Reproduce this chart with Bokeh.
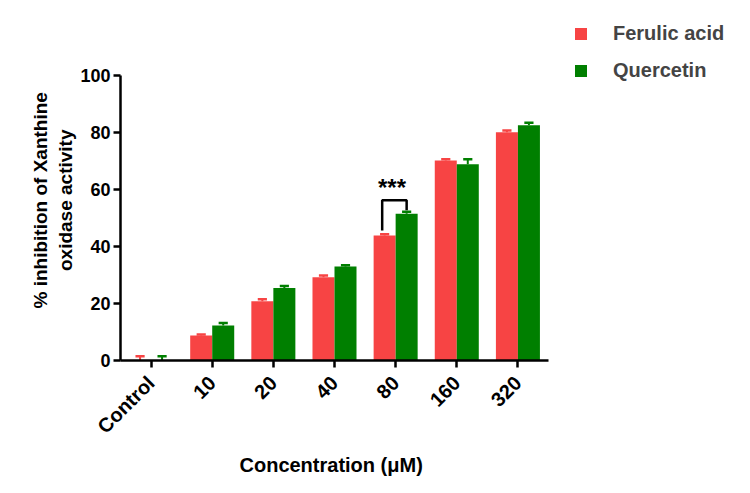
import numpy as np
from bokeh.plotting import figure
from bokeh.models import Range1d, FixedTicker, Legend, LegendItem, ColumnDataSource, Title
from bokeh.core.properties import value
from bokeh.embed import file_html
from bokeh.resources import INLINE

categories = ["Control", "10", "20", "40", "80", "160", "320"]
ferulic_mean = [0.2, 8.8, 20.8, 29.2, 43.9, 70.2, 80.1]
ferulic_err = [1.3, 0.3, 0.7, 0.6, 0.4, 0.4, 0.6]
quercetin_mean = [0.2, 12.3, 25.4, 33.0, 51.5, 68.9, 82.5]
quercetin_err = [1.3, 0.9, 0.7, 0.4, 0.7, 1.7, 0.9]
y_ticks = [0, 20, 40, 60, 80, 100]
y_label_lines = ["% inhibition of Xanthine", "oxidase activity"]
x_label = "Concentration (μM)"
sig_group = 4
sig_label = "***"

RED = "#F74444"
GREEN = "#007F00"
FONT = "Liberation Sans"

x = np.arange(len(categories))
off = 0.18
bw = 0.36
cap = 0.075

p = figure(width=750, height=493, output_backend="svg", toolbar_location=None,
           x_range=Range1d(-0.5, 9.804), y_range=Range1d(0, 121.05),
           min_border_left=120, min_border_right=0, min_border_top=15, min_border_bottom=133)
p.outline_line_color = None
p.xgrid.visible = False
p.ygrid.visible = False
p.background_fill_color = "white"
p.border_fill_color = "white"

def series(xs, mean, err, color):
    src = ColumnDataSource(dict(x=xs, top=mean, upper=np.array(mean) + np.array(err)))
    r = p.vbar(x="x", top="top", width=bw, bottom=0, source=src, fill_color=color, line_color=None)
    p.segment(x0="x", y0="top", x1="x", y1="upper", source=src, line_color=color, line_width=2)
    xs_arr = np.array(xs)
    p.segment(x0=xs_arr - cap, y0=src.data["upper"], x1=xs_arr + cap, y1=src.data["upper"],
              line_color=color, line_width=2.5)
    return r

r1 = series(x - off, ferulic_mean, ferulic_err, RED)
r2 = series(x + off, quercetin_mean, quercetin_err, GREEN)

# significance bracket
i = sig_group
lx = i - off - 0.04
rx = i + off
y_left = ferulic_mean[i] + ferulic_err[i] + 1.3
y_right = quercetin_mean[i] + quercetin_err[i] + 0.5
y_top = quercetin_mean[i] + quercetin_err[i] + 4
p.line(x=[lx, lx, rx, rx], y=[y_left, y_top, y_top, y_right], line_color="black", line_width=2.5)
p.text(x=[i - 0.06], y=[y_top + 4.6], text=[sig_label], text_font=value(FONT),
       text_font_style="bold", text_font_size="24px", text_align="center",
       text_baseline="alphabetic", text_color="black")

# axes
for ax in (p.xaxis[0], p.yaxis[0]):
    ax.axis_line_width = 2.5
    ax.axis_line_color = "black"
    ax.major_tick_line_width = 2.5
    ax.major_tick_line_color = "black"
    ax.major_tick_in = 0
    ax.major_tick_out = 7
    ax.minor_tick_line_color = None
    ax.major_label_text_font = FONT
    ax.major_label_text_font_style = "bold"
    ax.major_label_text_color = "black"

p.xaxis.bounds = (-0.5, 6.5)
p.xaxis.ticker = FixedTicker(ticks=list(x))
p.xaxis.major_label_overrides = {int(k): c for k, c in zip(x, categories)}
p.xaxis.major_label_orientation = np.pi / 4
p.xaxis.major_label_standoff = 12
p.xaxis.major_label_text_font_size = "20px"

p.yaxis.bounds = (0, 100)
p.yaxis.ticker = FixedTicker(ticks=y_ticks)
p.yaxis.major_label_standoff = 3
p.yaxis.major_label_text_font_size = "18px"

# y-axis label as two centred lines (inner line first)
yt2 = Title(text=y_label_lines[1], align="left", offset=89.5, text_font=FONT,
            text_font_style="bold", text_font_size="19px", text_color="black", standoff=4)
p.add_layout(yt2, "left")
yt1 = Title(text=y_label_lines[0], align="left", offset=52, text_font=FONT,
            text_font_style="bold", text_font_size="19px", text_color="black", standoff=0)
p.add_layout(yt1, "left")

xt = Title(text=x_label, align="left", offset=119, text_font=FONT,
           text_font_style="bold", text_font_size="20px", text_color="black", standoff=6)
p.add_layout(xt, "below")

legend = Legend(items=[LegendItem(label="Ferulic acid", renderers=[r1]),
                       LegendItem(label="Quercetin", renderers=[r2])],
                location=(453, 278))
legend.border_line_color = None
legend.background_fill_alpha = 0
legend.padding = 0
legend.margin = 0
legend.spacing = 14
legend.glyph_width = 15
legend.glyph_height = 15
legend.label_standoff = 25
legend.label_text_font = FONT
legend.label_text_font_style = "bold"
legend.label_text_font_size = "20px"
p.add_layout(legend)

open("out.html", "w").write(file_html(p, INLINE))
